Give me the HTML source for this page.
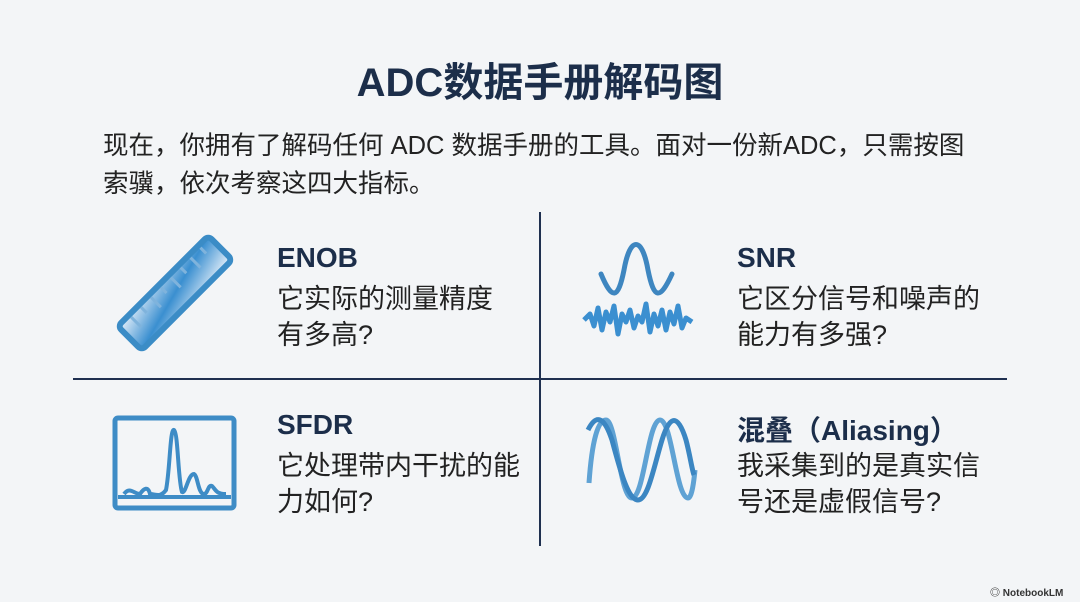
<!DOCTYPE html>
<html><head><meta charset="utf-8"><style>
body{margin:0;width:1080px;height:602px;background:#f3f5f7;font-family:"Liberation Sans","Noto Sans CJK SC",sans-serif;position:relative;overflow:hidden;color:#222}
.a{position:absolute;white-space:nowrap}
.t{left:0;width:1080px;text-align:center;top:50px;font-size:40px;font-weight:bold;color:#1c2e4a}
.p{left:103px;font-size:25.5px;line-height:38px;top:127px;color:#222}
.h{font-size:28px;font-weight:bold;color:#1c2e4a}
.s{font-size:27px;line-height:36px;color:#222}
</style></head><body>
<div class="a t">ADC数据手册解码图</div>
<div class="a p">现在，你拥有了解码任何 ADC 数据手册的工具。面对一份新ADC，只需按图<br>索骥，依次考察这四大指标。</div>
<div class="a" style="left:539px;top:212px;width:2px;height:334px;background:#1f3050"></div>
<div class="a" style="left:73px;top:378px;width:934px;height:2px;background:#1f3050"></div>

<div class="a h" style="left:277px;top:242px">ENOB</div>
<div class="a s" style="left:277px;top:281px">它实际的测量精度<br>有多高?</div>
<div class="a h" style="left:737px;top:242px">SNR</div>
<div class="a s" style="left:737px;top:281px">它区分信号和噪声的<br>能力有多强?</div>
<div class="a h" style="left:277px;top:409px">SFDR</div>
<div class="a s" style="left:277px;top:448px">它处理带内干扰的能<br>力如何?</div>
<div class="a h" style="left:737px;top:409px">混叠（Aliasing）</div>
<div class="a s" style="left:737px;top:448px">我采集到的是真实信<br>号还是虚假信号?</div>

<svg class="a" style="left:0;top:0" width="1080" height="602">
<defs><linearGradient id="g" x1="0" y1="0" x2="1" y2="1"><stop offset="0" stop-color="#e8f1fa"/><stop offset=".5" stop-color="#3a8fd0"/><stop offset="1" stop-color="#e8f1fa"/></linearGradient></defs>
<g transform="translate(175,293) rotate(-45)">
<rect x="-64" y="-17" width="128" height="34" rx="5" fill="url(#g)" stroke="#3b8cc6" stroke-width="6"/>
<g stroke="#7fb3dc" stroke-width="3"><line x1="-48" y1="-14" x2="-48" y2="0"/><line x1="-34" y1="-14" x2="-34" y2="-6"/><line x1="-20" y1="-14" x2="-20" y2="0"/><line x1="-6" y1="-14" x2="-6" y2="-6"/><line x1="8" y1="-14" x2="8" y2="0"/><line x1="22" y1="-14" x2="22" y2="-6"/><line x1="36" y1="-14" x2="36" y2="0"/><line x1="50" y1="-14" x2="50" y2="-6"/></g></g>
<path d="M601,274 C612,300 618,300 624,270 C630,236 642,236 648,270 C654,300 660,300 672,274" fill="none" stroke="#3e86c0" stroke-width="5" stroke-linecap="round"/>
<path d="M584,320 L590,314 594,326 598,308 602,330 606,312 610,322 614,306 618,334 622,314 626,322 630,310 634,328 638,316 642,322 646,304 650,332 654,314 658,326 662,310 666,330 670,312 674,324 678,306 682,328 686,318 692,322" fill="none" stroke="#3b8fd0" stroke-width="5" stroke-linejoin="round"/>
<rect x="115" y="418" width="119" height="90" rx="3" fill="none" stroke="#3e8cc6" stroke-width="5"/>
<line x1="118" y1="497" x2="231" y2="497" stroke="#3e8cc6" stroke-width="4"/>
<path d="M124,494 C130,486 134,494 140,494 C144,488 148,486 150,494 C156,494 160,498 166,490 C170,470 170,428 174,430 C178,432 178,480 182,492 C186,494 188,474 194,474 C198,476 198,494 204,494 C208,494 208,484 212,486 C216,490 216,494 226,494" fill="none" stroke="#3e8cc6" stroke-width="4"/>
<path d="M589,483 C592,440 598,420 606,420 C616,420 620,498 632,498 C644,498 648,420 660,420 C672,420 676,498 688,498 C692,498 694,480 695,470" fill="none" stroke="#5fa2d4" stroke-width="5"/>
<path d="M588,430 C596,414 604,416 612,440 C620,470 628,500 638,500 C648,500 654,466 662,440 C670,414 678,414 686,440 C690,455 692,470 694,475" fill="none" stroke="#3b86c2" stroke-width="5"/>
</svg>
<div class="a" style="left:990px;top:584px;font-size:10px;color:#333;font-weight:bold">◎ NotebookLM</div>
</body></html>
